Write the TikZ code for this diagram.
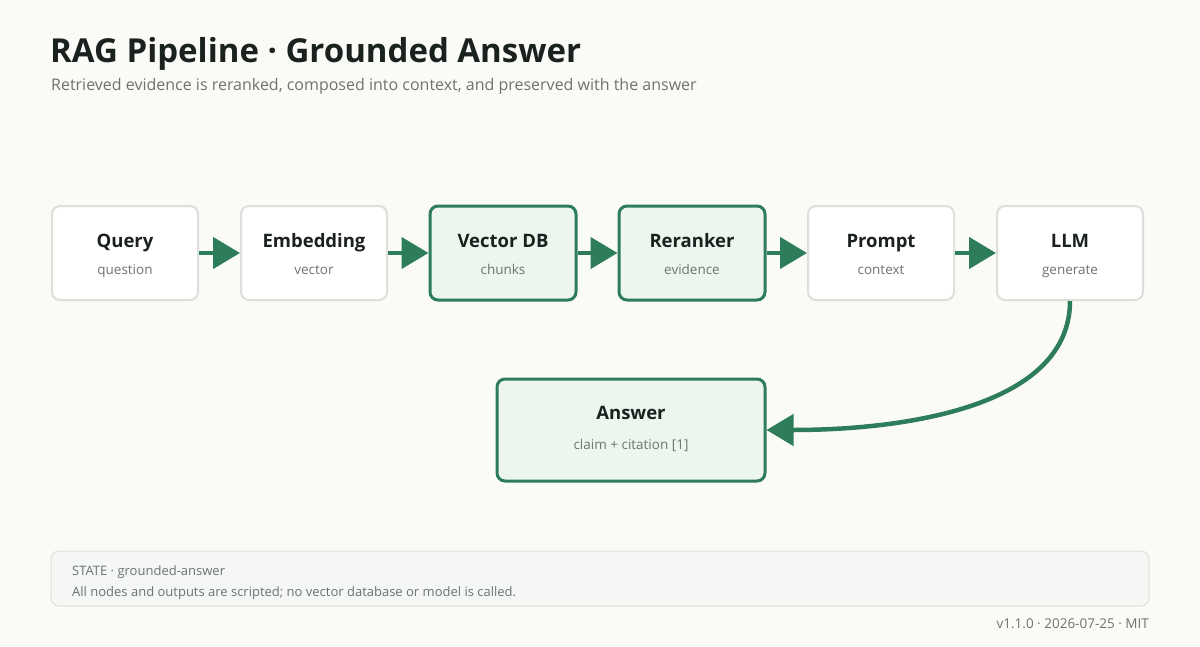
\documentclass[tikz,border=0pt]{standalone}
\usepackage{fontspec}
\setmainfont{Open Sans}
\usetikzlibrary{arrows.meta}
\definecolor{bg}{HTML}{FAFBF7}
\definecolor{ink}{HTML}{1B211E}
\definecolor{muted}{HTML}{6E736F}
\definecolor{boxline}{HTML}{DCDFDA}
\definecolor{grn}{HTML}{2E7D5A}
\definecolor{hlfill}{HTML}{EDF5EF}
\definecolor{footfill}{HTML}{F5F7F5}
\definecolor{footline}{HTML}{DDE0DC}
\tikzset{
  box/.style={draw=boxline, line width=2pt, fill=white, rounded corners=8pt,
    minimum width=146pt, minimum height=94pt, inner sep=0pt},
  hlbox/.style={box, draw=grn, line width=3pt, fill=hlfill},
  btitle/.style={anchor=base, font=\fontsize{18.5}{22}\selectfont\bfseries, text=ink, inner sep=0pt},
  bsub/.style={anchor=base, font=\fontsize{13.5}{16}\selectfont, text=muted, inner sep=0pt},
  flow/.style={draw=grn, line width=4.5pt, -{Triangle[length=27pt,width=31pt]}},
  foot/.style={anchor=base west, font=\fontsize{13}{15}\selectfont, text=muted, inner sep=0pt}
}
\begin{document}
\begin{tikzpicture}[x=1pt,y=-1pt]
\useasboundingbox (0,0) rectangle (1200,646);
\fill[bg] (0,0) rectangle (1200,646);

\node[anchor=base west, inner sep=0pt, text=ink, font=\fontsize{33}{38}\selectfont\bfseries] (title) at (50,62) {RAG Pipeline · Grounded Answer};
\node[anchor=base west, inner sep=0pt, text=muted, font=\fontsize{16}{19}\selectfont] (subtitle) at (51,90) {Retrieved evidence is reranked, composed into context, and preserved with the answer};

\node[box]   (q)   at (125,253) {};
\node[box]   (e)   at (314,253) {};
\node[hlbox] (v)   at (503,253) {};
\node[hlbox] (r)   at (692,253) {};
\node[box]   (p)   at (881,253) {};
\node[box]   (llm) at (1070,253) {};
\node[hlbox, minimum width=268pt, minimum height=102pt] (ans) at (631,430) {};

\node[btitle] (qt) at ([yshift=6pt]q.center) {Query};
\node[bsub]   (qs) at ([yshift=-21pt]q.center) {question};
\node[btitle] (et) at ([yshift=6pt]e.center) {Embedding};
\node[bsub]   (es) at ([yshift=-21pt]e.center) {vector};
\node[btitle] (vt) at ([yshift=6pt]v.center) {Vector DB};
\node[bsub]   (vs) at ([yshift=-21pt]v.center) {chunks};
\node[btitle] (rt) at ([yshift=6pt]r.center) {Reranker};
\node[bsub]   (rs) at ([yshift=-21pt]r.center) {evidence};
\node[btitle] (pt) at ([yshift=6pt]p.center) {Prompt};
\node[bsub]   (ps) at ([yshift=-21pt]p.center) {context};
\node[btitle] (lt) at ([yshift=6pt]llm.center) {LLM};
\node[bsub]   (ls) at ([yshift=-21pt]llm.center) {generate};
\node[btitle] (at) at ([yshift=11pt]ans.center) {Answer};
\node[bsub]   (as) at ([yshift=-19pt]ans.center) {claim + citation [1]};

\draw[flow] (q.east) -- (e.west);
\draw[flow] (e.east) -- (v.west);
\draw[flow] (v.east) -- (r.west);
\draw[flow] (r.east) -- (p.west);
\draw[flow] (p.east) -- (llm.west);
\draw[flow] (llm.south) .. controls +(0,105) and +(140,0) .. (ans.east);

\draw[draw=footline, fill=footfill, line width=1pt, rounded corners=8pt] (51,551) rectangle (1149,606);
\node[foot] (f1) at (72,575) {STATE · grounded-answer};
\node[foot] (f2) at (72,596) {All nodes and outputs are scripted; no vector database or model is called.};
\node[foot, anchor=base east, font=\fontsize{13.5}{16}\selectfont] (ver) at (1149,628) {v1.1.0 · 2026-07-25 · MIT};
\end{tikzpicture}
\end{document}
